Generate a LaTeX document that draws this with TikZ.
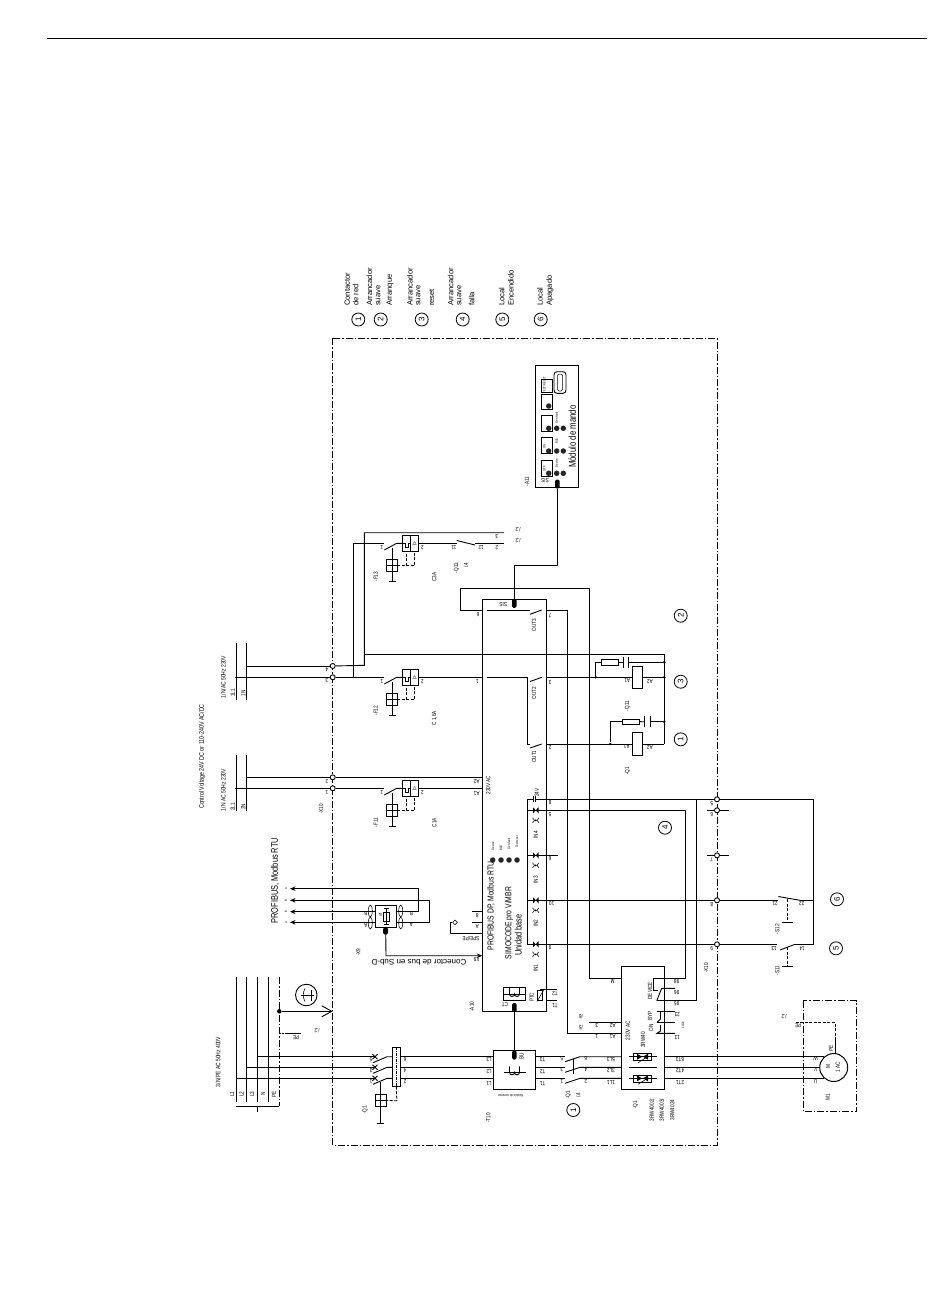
\documentclass[tikz,border=0pt]{standalone}
\usepackage{fontspec}
\setmainfont{Liberation Sans}
\newfontfamily\narrowfont[FakeStretch=0.78]{Liberation Sans}
\usetikzlibrary{shapes.geometric, arrows, arrows.meta}
\tikzstyle{wire} = [line width=0.9pt]
\tikzstyle{hair} = [line width=0.55pt]
\tikzstyle{frame} = [line width=0.85pt, dash pattern=on 7pt off 2pt on 1.5pt off 2pt]
\tikzstyle{link} = [line width=0.8pt, dash pattern=on 3pt off 1.5pt]
\tikzstyle{unit} = [rectangle, draw=black, line width=0.9pt, inner sep=0pt, outer sep=0pt]
\tikzstyle{terminal} = [circle, draw=black, fill=white, line width=0.9pt, inner sep=0pt, minimum size=5pt]
\tikzstyle{joint} = [circle, fill=black, inner sep=0pt, minimum size=2.8pt]
\tikzstyle{led} = [circle, fill=black!85, inner sep=0pt, minimum size=5.5pt]
\tikzstyle{plug} = [rectangle, rounded corners=1.5pt, fill=black, inner sep=0pt, minimum width=4.5pt, minimum height=9pt]
\tikzstyle{callout} = [circle, draw=black, line width=0.8pt, inner sep=0pt, minimum size=13pt, rotate=90, font=\fontsize{8}{8}\selectfont]
\tikzstyle{up} = [rotate=90, inner sep=0pt, font=\narrowfont\fontsize{6}{6}\selectfont]
\tikzstyle{rev} = [rotate=180, inner sep=0pt, font=\narrowfont\fontsize{6}{6}\selectfont]
\tikzstyle{tiny} = [rotate=90, inner sep=0pt, font=\narrowfont\fontsize{3.4}{3.4}\selectfont]
\tikzstyle{head} = [rotate=90, anchor=west, inner sep=0pt, font=\fontsize{7.6}{7.6}\selectfont]
\tikzstyle{title} = [rotate=90, inner sep=0pt, font=\narrowfont\fontsize{8.5}{8.5}\selectfont]
\tikzstyle{busarrow} = [wire, -{Stealth[length=5.5pt,width=4.5pt]}]
\newcommand{\unitbox}[5]{\node (#1) [unit, minimum width={#4-#2}, minimum height={#5-#3}] at ({(#2+#4)/2},{(#3+#5)/2}) {};}
% miniature circuit breaker, wire at height #2
\newcommand{\breaker}[2]{
	\begin{scope}[shift={(0,#2)}]
		\coordinate (#1in) at (384.3,0);
		\coordinate (#1sw) at (396.7,0);
		\node (#1box) [unit, minimum width=16.4pt, minimum height=16pt] at (410.5,0) {};
		\node (#1drv) [unit, minimum width=10.8pt, minimum height=12pt] at (392,22.5) {};
		\coordinate (#1tee) at (392,38.5);
		\coordinate (#1a) at (406,8);
		\coordinate (#1b) at (414.5,8);
		\coordinate (#1c) at (406,22.5);
		\coordinate (#1d) at (414.5,22.5);
		\node (#1trip) [up] at (414.5,0) {I>};
		\draw [wire] (384.3,6.7) -- (#1sw) -- (#1box.west);
		\draw [wire] (#1box.north) -- (#1box.south);
		\draw [hair] (402.3,0) -- (405,0) -- (405,3.5) -- (408.5,3.5) -- (408.5,0) -- (410.5,0);
		\draw [wire] (392,4.5) -- (#1tee);
		\draw [wire] (#1drv.west) -- (#1drv.east);
		\draw [wire] (388.5,38.5) -- (395.5,38.5);
		\draw [link] (#1drv.east) -- (#1c) -- (#1d) -- (#1b);
		\draw [link] (#1c) -- (#1a);
	\end{scope}
}
% current coil symbol
\newcommand{\coilsym}[2]{
	\draw [wire] (#1-11,#2) -- (#1+11,#2);
	\draw [wire] (#1-5,#2-6) -- (#1-5,#2) arc[start angle=180, end angle=360, radius=2.5pt] arc[start angle=180, end angle=360, radius=2.5pt] -- (#1+5,#2-6);
}
\begin{document}
\begin{tikzpicture}[x=1pt, y=-1pt]
	\useasboundingbox (0,0) rectangle (950,1301);
	\coordinate (ruleL) at (47,38.5);
	\coordinate (ruleR) at (927,38.5);
	\draw [wire] (ruleL) -- (ruleR);
	\coordinate (frameNW) at (332.7,338);
	\coordinate (frameSE) at (717,1145);
	\draw [frame] (frameNW) rectangle (frameSE);
	
	% main units
	\unitbox{A10}{482.3}{599.3}{546.7}{1011.3}
	\unitbox{A11}{535.3}{365.7}{578.7}{487.3}
	\unitbox{T10}{493.3}{1050}{535.7}{1089.3}
	\unitbox{softQ1}{621.7}{966}{664.3}{1089.3}
	\unitbox{module}{392.3}{1047.3}{400.7}{1086.7}
	\unitbox{X9}{375.3}{905.3}{396.7}{927}
	\unitbox{coilQ11}{632.3}{666.3}{642.3}{688.3}
	\unitbox{coilQ1}{632.3}{732.3}{642.3}{755.7}
	\unitbox{resQ11}{601}{659.3}{618.3}{665.3}
	\unitbox{resQ1}{622.3}{719}{639}{724.3}
	\unitbox{CT}{503.3}{987.3}{525.7}{1000.7}
	\unitbox{PTC}{537.7}{990}{542.7}{1000.7}
	\node (M1) [circle, draw=black, line width=1pt, inner sep=0pt, minimum size=28pt] at (833.7,1067.5) {};
	\draw [frame] (803.3,1000.7) rectangle (856.7,1111.7);
	
	% supply rails
	\foreach \x in {236.3,246.3,257.3,268.7} {
		\draw [wire] (\x,977) -- (\x,1102);
	}
	\draw [frame] (279.3,977) -- (279.3,1106);
	\draw [wire] (236.3,1106) -- (279.3,1106);
	\draw [wire] (257.3,1106) -- (257.3,1112);
	\foreach \x in {236.3,246.3} {
		\draw [wire] (\x,643.3) -- (\x,700);
		\draw [wire] (\x,755) -- (\x,810.7);
	}
	
	% three phases
	\foreach \i/\xs/\y in {3/257.3/1056.7,2/246.3/1067.3,1/236.3/1078.3} {
		\coordinate (ph\i) at (\xs,\y);
		\coordinate (cbL\i) at (375,\y);
		\coordinate (cbR\i) at (387,\y);
		\coordinate (kmL\i) at (565,\y);
		\coordinate (kmR\i) at (580,\y);
		\draw [wire] (ph\i) -- (cbL\i);
		\draw [wire] (372.5,\y-2.5) -- (377.5,\y+2.5);
		\draw [wire] (372.5,\y+2.5) -- (377.5,\y-2.5);
		\draw [wire] (373,\y+6) -- (cbR\i) -- (module.west |- cbR\i);
		\draw [wire] (module.east |- cbR\i) -- (T10.west |- cbR\i);
		\draw [wire] (T10.east |- kmL\i) -- (kmL\i);
		\draw [wire] (565,\y+5) -- (kmR\i) -- (softQ1.west |- kmR\i);
	}
	\draw [wire] (573.3,1058.5) -- (573.3,1074);
	\draw [wire] (softQ1.east |- M1.131) -- (M1.131);
	\draw [wire] (softQ1.east |- M1.180) -- (M1.180);
	\draw [wire] (softQ1.east |- M1.229) -- (M1.229);
	\draw [hair, dash pattern=on 3pt off 1pt on 1pt off 1pt] (396.5,1047.3) -- (396.5,1086.7);
	\coordinate (driveQ) at (396.7,1100.7);
	\node (drvQ1) [unit, minimum width=11.4pt, minimum height=12.4pt] at (381,1100.5) {};
	\coordinate (teeQ1) at (380.7,1123);
	\draw [link] (module.south) -- (driveQ) -- (drvQ1.east);
	\draw [wire] (380.7,1082) -- (teeQ1);
	\draw [wire] (drvQ1.west) -- (drvQ1.east);
	\draw [wire] (377.4,1123) -- (384,1123);
	
	% PE arrow and earth
	\node (dotPE) [circle, fill=black, inner sep=0pt, minimum size=4.5pt] at (279.3,1011.3) {};
	\coordinate (framePE) at (332.7,1011.3);
	\draw [wire, -{Straight Barb[length=10pt,width=11pt]}] (dotPE) -- (framePE);
	\node (earth) [circle, draw=black, line width=0.9pt, inner sep=0pt, minimum size=21.5pt] at (306.3,995) {};
	\draw [wire] (301,995) -- (314,995);
	\draw [wire] (311,989.5) -- (311,1000.5);
	\draw [hair] (305,988.5) arc[start angle=150, end angle=210, radius=13pt];
	\coordinate (stubPE) at (279.3,1033.3);
	\coordinate (stubPEb) at (300.7,1033.3);
	\draw [hair, dash pattern=on 2pt off 1pt] (stubPE) -- (287,1033.3);
	\draw [wire] (287,1033.3) -- (stubPEb);
	
	% breakers
	\breaker{F13}{543.3}
	\breaker{F12}{677.3}
	\breaker{F11}{788.3}
	
	% terminals X10
	\foreach \n/\x/\y in {t1/332.7/666,t2/332.7/677.3,t3/332.7/777.3,t4/332.7/788.3,x5/717/799.3,x6/717/810.3,x7/717/855.3,x8/717/900.3,x9/717/944.3} {
		\node (\n) [terminal] at (\x,\y) {};
	}
	\coordinate (n1) at (246.3,666);
	\coordinate (l1) at (235,677.3);
	\coordinate (n2) at (246.3,777.3);
	\coordinate (l2) at (235,788.3);
	\coordinate (bendA) at (364.3,665.3);
	\coordinate (bendB) at (364.3,532.7);
	\coordinate (bendC) at (353.7,677.3);
	\coordinate (bendD) at (353.7,543.3);
	\coordinate (endA) at (504,532.7);
	\coordinate (endB) at (504,543.3);
	\coordinate (q11a) at (456.7,543.3);
	\coordinate (q11b) at (475,543.3);
	\coordinate (tieR) at (664.3,654.3);
	\coordinate (tieL) at (364.3,654.3);
	\coordinate (tieB) at (664.3,744);
	\draw [wire] (n1) -- (t1);
	\draw [wire] (t1) -- (bendA) -- (bendB) -- (endA);
	\draw [wire] (l1) -- (t2);
	\draw [wire] (t2) -- (bendC);
	\draw [wire] (bendC) -- (F12in);
	\draw [wire] (bendC) -- (bendD) -- (F13in);
	\draw [wire] (F13box.east) -- (q11a);
	\draw [wire] (456.7,540.5) -- (475,545);
	\draw [wire] (q11b) -- (endB);
	\draw [wire] (tieL) -- (tieR) -- (tieB);
	\draw [wire] (F12box.east) -- (A10.west |- F12box);
	\draw [wire] (n2) -- (t3);
	\draw [wire] (t3) -- (A10.west |- t3);
	\draw [wire] (l2) -- (t4);
	\draw [wire] (t4) -- (F11in);
	\draw [wire] (F11box.east) -- (A10.west |- F11box);
	
	% outputs of A10
	\coordinate (out3a) at (486.7,610);
	\coordinate (out3b) at (530,610);
	\coordinate (out3c) at (541.7,610);
	\coordinate (out3d) at (547.3,610);
	\coordinate (out3e) at (567.7,610);
	\coordinate (a1Q) at (567.7,1033.3);
	\draw [wire] (out3a) -- (out3b);
	\draw [wire] (530,614.3) -- (out3c);
	\draw [wire] (out3d) -- (out3e) -- (a1Q) -- (softQ1.west |- a1Q);
	\coordinate (a2Qa) at (589,1022.3);
	\draw [wire] (a2Qa) -- (softQ1.west |- a2Qa);
	\coordinate (out2a) at (486.7,677.3);
	\coordinate (out2b) at (527.3,677.3);
	\coordinate (out2c) at (541.7,677.3);
	\coordinate (out1b) at (527.3,744);
	\coordinate (out1c) at (541.7,744);
	\draw [wire] (out2a) -- (out2b) -- (out1b) -- (530,744);
	\draw [wire] (530,681.5) -- (out2c);
	\draw [wire] (530,748) -- (out1c);
	\draw [wire] (A10.east |- out2c) -- (coilQ11.west |- out2c);
	\draw [wire] (coilQ11.east |- out2c) -- (tieR |- out2c);
	\draw [wire] (A10.east |- out1c) -- (coilQ1.west |- out1c);
	\draw [wire] (coilQ1.east |- out1c) -- (tieB);
	% snubbers
	\node (j1) [joint] at (595.7,677.3) {};
	\node (j2) [joint] at (664.3,662.3) {};
	\node (j3) [joint] at (664.3,677.3) {};
	\node (j4) [joint] at (610.3,744) {};
	\node (j5) [joint] at (664.3,721.7) {};
	\coordinate (capA) at (623,662.3);
	\coordinate (capB) at (628.7,662.3);
	\coordinate (capC) at (644,721.7);
	\coordinate (capD) at (650,721.7);
	\draw [wire] (j1) |- (resQ11);
	\draw [wire] (resQ11) -- (capA);
	\draw [wire] (capB) -- (j2);
	\draw [wire] (623,656.7) -- (623,668.3);
	\draw [wire] (628.7,656.7) -- (628.7,668.3);
	\draw [wire] (j4) |- (resQ1);
	\draw [wire] (resQ1) -- (capC);
	\draw [wire] (capD) -- (j5);
	\draw [wire] (644,716) -- (644,727.3);
	\draw [wire] (650,716) -- (650,727.3);
	
	% long loop to the soft starter
	\coordinate (mA) at (589.3,978.3);
	\coordinate (mB) at (589.3,588.3);
	\coordinate (mC) at (460.3,588.3);
	\coordinate (mD) at (460.3,610);
	\draw [wire] (softQ1.west |- mA) -- (mA) -- (mB) -- (mC) -- (mD) -- (A10.west |- mD);
	
	% inputs
	\coordinate (inTop) at (527.3,799.3);
	\coordinate (inBot) at (527.3,944.3);
	\coordinate (cap24a) at (533.5,799.3);
	\coordinate (cap24b) at (535.5,799.3);
	\draw [wire] (cap24a) -- (inTop) -- (inBot) -- (A10.east |- inBot);
	\draw [wire] (533.5,796.3) -- (533.5,802.3);
	\draw [wire] (535.5,796.3) -- (535.5,802.3);
	\foreach \y in {810.3,855.3,900.3,944.3} {
		\fill (533,\y-3) -- (538.5,\y+3) -- (538.5,\y-3) -- (533,\y+3) -- cycle;
		\fill (535.8,\y+10) circle (1pt);
		\draw [hair] (532.5,\y+7.5) -- (534.5,\y+10) -- (532.5,\y+12.5);
		\draw [hair] (539,\y+7.5) -- (537,\y+10) -- (539,\y+12.5);
	}
	\draw [wire] (inTop |- x6) -- (A10.east |- x6);
	\draw [wire] (inTop |- x7) -- (A10.east |- x7);
	\draw [wire] (inTop |- x8) -- (A10.east |- x8);
	\coordinate (s98) at (685.7,810.3);
	\coordinate (s98b) at (685.7,978.3);
	\coordinate (s95) at (696.7,799.3);
	\coordinate (s95b) at (696.7,1000.7);
	\draw [wire] (cap24b) -- (x5);
	\draw [wire] (inTop |- s98) -- (s98) -- (s98b) -- (softQ1.east |- s98b);
	\draw [wire] (s95) -- (s95b) -- (656.7,1000.7);
	\coordinate (x7L) at (557.7,855.3);
	\draw [wire] (A10.east |- x7L) -- (x7L);
	\coordinate (x6s) at (706.7,810.3);
	\coordinate (x6e) at (729,810.3);
	\coordinate (x7s) at (706.7,855.3);
	\coordinate (x7e) at (729,855.3);
	\draw [wire] (x6s) -- (x6);
	\draw [wire] (x6) -- (x6e);
	\draw [wire] (x7s) -- (x7);
	\draw [wire] (x7) -- (x7e);
	
	% local switches
	\coordinate (swTR) at (813.3,799.3);
	\coordinate (swBR) at (813.3,944.3);
	\coordinate (s12a) at (778.3,900.3);
	\coordinate (s12b) at (800,900.3);
	\coordinate (s11a) at (777,944.3);
	\coordinate (s11b) at (795,944.3);
	\coordinate (s12t) at (787.3,922.3);
	\coordinate (s11t) at (787.3,966);
	\draw [wire] (x5) -- (swTR) -- (swBR) -- (s11b);
	\draw [wire] (s12b) -- (813.3,900.3);
	\draw [wire] (A10.east |- x8) -- (x8);
	\draw [wire] (x8) -- (s12a);
	\draw [wire] (A10.east |- x9) -- (x9);
	\draw [wire] (x9) -- (s11a);
	\draw [wire] (778.3,896.5) -- (s12b);
	\draw [wire] (780,950) -- (s11b);
	\draw [link] (787.3,899) -- (s12t);
	\draw [link] (787.3,947) -- (s11t);
	\draw [wire] (781.7,922.3) -- (792.7,922.3);
	\draw [wire] (781.7,966) -- (792.7,966);
	
	% bus connector
	\coordinate (busA) at (290,888.7);
	\coordinate (busB) at (290,900.3);
	\coordinate (busC) at (290,911.7);
	\coordinate (busD) at (290,922.3);
	\coordinate (busE) at (418.7,888.7);
	\coordinate (busF) at (429,900.3);
	\draw [busarrow] (X9.west |- busC) -- (busC);
	\draw [busarrow] (X9.west |- busD) -- (busD);
	\draw [busarrow] (X9.east |- busC) -- (busE |- busC) -- (busE) -- (busA);
	\draw [busarrow] (X9.east |- busD) -- (busF |- busD) -- (busF) -- (busB);
	\foreach \x in {370.3,400.7} {
		\draw [hair] (\x,911) ellipse (2pt and 6pt);
		\draw [hair] (\x,923) ellipse (2pt and 6pt);
	}
	\unitbox{termX9}{383.3}{912.7}{389.3}{921}
	\draw [hair] (386.3,908) -- (386.3,924);
	\draw [hair] (383.5,908) -- (389,908);
	\draw [hair] (383.5,924) -- (389,924);
	\node (plugX9) [plug, minimum width=5pt, minimum height=7pt] at (385.7,931) {};
	\coordinate (shA) at (386,955.7);
	\draw [busarrow] (plugX9) -- (shA) -- (A10.west |- shA);
	\coordinate (speA) at (450,933.3);
	\coordinate (speB) at (450,922.3);
	\node (speG) [diamond, draw=black, line width=0.6pt, inner sep=0pt, minimum size=5pt] at (455,922.3) {};
	\draw [wire] (A10.west |- speA) -- (speA) -- (speB) -- (speG);
	\coordinate (pinB) at (471.7,911.7);
	\coordinate (pinA) at (471.7,922.3);
	\draw [wire] (pinB) -- (A10.west |- pinB);
	\draw [wire] (pinA) -- (A10.west |- pinA);
	
	% current measuring
	\coilsym{514.5}{1072.3}
	\coilsym{514.5}{994}
	\node (plugBU) [plug] at (514.3,1055) {};
	\node (plugCT) [plug] at (514.3,1007.5) {};
	\draw [wire] (plugCT) -- (plugBU);
	\coordinate (ptc1) at (557.3,989.3);
	\coordinate (ptc2) at (557.3,1000.7);
	\draw [wire] (A10.east |- ptc1) -- (ptc1);
	\draw [wire] (A10.east |- ptc2) -- (ptc2);
	\draw [wire] (PTC.north) -- (PTC.north |- ptc1) -- (A10.east |- ptc1);
	\draw [hair] (537,1001.5) -- (544,989.5);
	
	% control module link
	\node (plugSIS) [plug] at (514.3,603.3) {};
	\node (plugA11) [plug] at (557.3,484) {};
	\coordinate (sisA) at (514.3,565.5);
	\coordinate (sisB) at (557.3,565.5);
	\draw [wire] (plugSIS) -- (sisA) -- (sisB) -- (plugA11);
	
	% control module contents
	\foreach \n/\a/\b in {k1/379/392.7,k2/394/409.7,k3/415/431.7,k4/437.3/453.7,k5/460/476} {
		\unitbox{\n}{541.7}{\a}{552}{\b}
	}
	\node (slot) [rectangle, rounded corners=3pt, draw=black, line width=0.9pt, minimum width=12pt, minimum height=21.6pt, inner sep=0pt] at (560,382.5) {};
	\node (slotin) [rectangle, rounded corners=1.5pt, draw=black, line width=0.5pt, minimum width=5pt, minimum height=17pt, inner sep=0pt] at (560,382.5) {};
	\foreach \n/\x/\y in {a1/548.7/406,a2/548.7/428.3,a3/556.7/428.3,a4/563.3/428.3,a5/548.7/451,a6/556.7/451,a7/563.3/451,a8/548.7/473.3,a9/556.7/473.3,a10/563.3/473.3} {
		\node (\n) [led] at (\x,\y) {};
	}
	\node (d1) [led] at (492.7,860) {};
	\node (d2) [led] at (501,860) {};
	\node (d3) [led] at (509,860) {};
	\node (d4) [led] at (517,860) {};
	
	% soft starter contents
	\foreach \y in {1056.7,1078.3} {
		\draw [wire] (629.3,\y) -- (656.7,\y);
		\draw [hair] (633.3,\y-3) rectangle (651.7,\y+3.5);
		\fill (637,\y-3) -- (637,\y+3) -- (642,\y) -- cycle;
		\fill (648,\y-3) -- (648,\y+3) -- (643,\y) -- cycle;
		\draw [hair] (638,\y+6) -- (646,\y+1);
	}
	\draw [wire] (629.3,1067.3) -- (656.7,1067.3);
	\draw [wire] (653.3,978.3) -- (softQ1.east |- mA);
	\draw [wire] (653.3,978.3) -- (653.3,990) -- (658,990);
	\draw [wire] (656.7,1000.7) -- (661.7,988.3) -- (675,988.3);
	\draw [wire] (657,1011.7) -- (675,1011.7);
	\draw [wire] (660.5,1011.7) -- (660.5,1019) -- (657,1022.3);
	\draw [wire] (657,1022.3) -- (675,1022.3);
	\draw [wire] (660.5,1025) -- (660.5,1031) -- (657,1033.3) -- (675,1033.3);
	
	% motor earth
	\coordinate (peA) at (835,1052.7);
	\coordinate (peB) at (835,1022.3);
	\coordinate (peC) at (795,1022.3);
	\draw [wire] (peA) -- (835,1040);
	\draw [link] (835,1040) -- (peB) -- (peC);
	
	% callouts
	\foreach \n/\t/\x/\y in {c1/1/358.3/319.5,c2/2/380.7/319.5,c3/3/421.7/319.5,c4/4/462.7/319.5,c5/5/502.3/319.5,c6/6/540.7/319.5,d2c/2/680.7/615.7,d3c/3/680.7/681.7,d1c/1/680.7/739.3,d4c/4/665/827.7,d6c/6/837/899.3,d5c/5/836/948.3,e1c/1/573.3/1110} {
		\node (\n) [callout] at (\x,\y) {\t};
	}
	\foreach \n/\t/\x/\y in {h1/Contactor/347.3/306,h2/de red/355.7/306,h3/Arrancador/369.3/306,h4/suave/378.3/306,h5/Arranque/390/306,h6/Arrancador/410/306,h7/suave/418.3/306,h8/reset/431.7/306,h9/Arrancador/450.7/306,h10/suave/459.3/306,h11/falla/471.7/306,h12/Local/501.7/306,h13/Encendido/511/306,h14/Local/540/306,h15/Apagado/550/306} {
		\node (\n) [head] at (\x,\y) {\t};
	}
	
	% titles
	\node (tProfi) [title, font=\narrowfont\fontsize{9.5}{9.5}\selectfont] at (275,880.7) {PROFIBUS, Modbus RTU};
	\node (tConn) [rotate=180, inner sep=0pt, font=\fontsize{8}{8}\selectfont] at (419,962.7) {Conector de bus en Sub-D};
	\node (tDP) [title, font=\narrowfont\fontsize{8.7}{8.7}\selectfont] at (491,906) {PROFIBUS DP, Modbus RTU};
	\node (tSim) [title, font=\narrowfont\fontsize{8.7}{8.7}\selectfont] at (509,923) {SIMOCODE pro V/MBR};
	\node (tBase) [title, font=\narrowfont\fontsize{9.5}{9.5}\selectfont] at (518.3,935) {Unidad base};
	\node (tMod) [title, font=\narrowfont\fontsize{10}{10}\selectfont] at (572.3,436.7) {Módulo de mando};
	\node (tCtl) [up, font=\narrowfont\fontsize{6.8}{6.8}\selectfont] at (202,756.5) {Control Voltage 24V DC or 110-240V AC/DC};
	\node (tMain) [up, font=\narrowfont\fontsize{6.4}{6.4}\selectfont] at (218,1062) {3/N/PE AC 50Hz 400V};
	\node (tSupA) [up, font=\narrowfont\fontsize{6.4}{6.4}\selectfont] at (223.3,677) {1/N/AC 50Hz 230V};
	\node (tSupB) [up, font=\narrowfont\fontsize{6.4}{6.4}\selectfont] at (223.3,790) {1/N AC 50Hz 230V};
	
	% labels reading upwards
	\foreach \x/\y/\t [count=\i] in {232/1094/L1,241.5/1094/L2,252/1094/L3,263/1094/N,274/1094/PE,232.7/693/1L1,243.3/693/1N,232.7/806.7/2L1,243.3/806.7/2N,321/809/-X10,365/1110/-Q1,375.7/822.7/-F11,375.7/710.7/-F12,375.7/576.7/-F13,434.3/822.7/C1A,434.3/718.3/{C 1,6A},434.3/577/C3A,456.7/568/-Q11,466/565/{/.4},358.3/952.3/-X9,471.7/1006.7/-A10,488.3/1118/-T10,568.3/1095/-Q1,578.3/1095/{/.4},635.7/1105/-Q1,651.7/1110/{3RW4002/},661.7/1110/{3RW4003/},672.3/1110/3RW4024,627.7/770.7/-Q1,627.7/706/-Q11,534/625/OUT3,534/693/OUT2,534/756.7/OUT1,535.7/835/IN4,535.7/880/IN3,535.7/923.3/IN2,535.7/968.3/IN1,488.3/785/230V AC,627.7/1030.7/230V AC,643/1040/3RW40,650/990.7/DEVICE,650/1016/BYP,651/1028/ON,531.7/997.3/PTC,521.7/1056/BU,706/968/-X10,777.3/929.3/-S12,777.3/970.7/-S11,526.7/481.7/-A11,827.7/1097/M1,828/1067/M,837.7/1067/1 AC,831/1048/PE,536.7/792.7/24V} {
		\node (up\i) [up] at (\x,\y) {\t};
	}
	% tiny labels
	\foreach \x/\y/\t [count=\i] in {493/846/Device,501/848/BUS,509/844/Gen.fault,517/842/Test.reset,556.7/418/Gen.fault,556.7/441/BUS,556.7/463/Device,544.5/385/{TEST/RESET},544.5/447/ON,544.5/469/OFF,683/1025/{14/24},286/888.7/A,286/900.3/B,286/911.7/B,286/922.3/A} {
		\node (ty\i) [tiny] at (\x,\y) {\t};
	}
	% labels upside down
	\foreach \x/\y/\t [count=\i] in {489/1060/L3,489/1071.7/L2,489/1083.3/L1,542.7/1060/T3,542.7/1071.7/T2,542.7/1083.3/T1,371/1060/5,371/1071/3,371/1082/1,405/1060/6,405/1071/4,405/1082/2,561.7/1059/5,561.7/1070/3,561.7/1082/1,585.7/1059/6,585.7/1070/4,585.7/1082/2,611/1059.5/5L3,611/1070.5/3L2,611/1082.5/1L1,680/1059.5/6T3,680/1070.5/4T2,680/1082.5/2T1,815.7/1059/W,815.7/1070/V,815.7/1082/U,296/1038/PE,317/1031/{/.2},798/1026/PE,784/1017/{/.2},581/1028/{/5},581/1017/{/6},612.7/1026/A2,612.7/1037/A1,596.7/1026/3,596.7/1037/1,612.7/981.7/M,676.7/981.7/98,676.7/992.3/96,676.7/1003.3/95,677.3/1015/23,677.3/1037.3/13,555/994/T2,555/1005.7/T1,505/1005/CT,326.7/782/2,326.7/792.7/1,326.7/670/4,326.7/681/3,381.7/548/1,422.3/548/2,381.7/681.7/1,422.3/681.7/2,381.7/792.7/1,422.3/792.7/2,454/548/11,481/548/12,496.7/537/3,496.7/548/2,518/530/{/.2},518/541/{/.2},478/615/6,550/615.7/7,550/683/3,550/748/2,477.3/681.7/1,476.7/781.7/A2,476.7/793.3/A1,550/802.7/8,550/815/5,550/859/6,551.7/903.3/10,550/947.7/9,711.7/804/5,711.7/814.7/6,711.7/860/7,711.7/904.5/8,711.7/949/9,775/904/21,801.7/904/22,774/949/13,802/949/14,365.7/914/B,365.7/925.7/A,411.3/914/B,411.3/925/A,477.3/915.7/8,477.3/926.7/A,471/938.3/{SPE/PE},476.7/960/X9,503.3/604.3/SIS,545/480.7/SIS,626.7/746.7/A1,650/747.7/A2,627.3/681/A1,650/681.7/A2} {
		\node (rv\i) [rev] at (\x,\y) {\t};
	}
	\node (rvA) [rotate=180, inner sep=0pt, font=\narrowfont\fontsize{3.6}{3.6}\selectfont] at (510.7,1096) {Módulo de corriente};
	\node (upOff) [tiny, font=\narrowfont\fontsize{4}{4}\selectfont] at (380.5,915) {off};
\end{tikzpicture}
\end{document}
